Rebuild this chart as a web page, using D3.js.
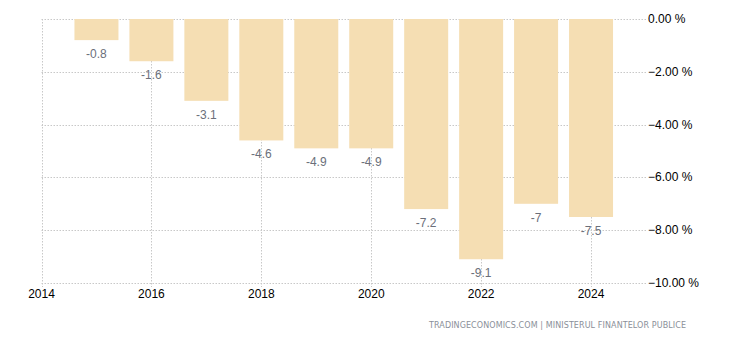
<!DOCTYPE html>
<html>
<head>
<meta charset="utf-8">
<script src="https://cdn.jsdelivr.net/npm/d3@7"></script>
<style>
  html, body { margin: 0; padding: 0; background: #fff; }
  svg { display: block; font-family: "Liberation Sans", Arial, sans-serif; }
</style>
</head>
<body>
<svg id="chart" width="730" height="340"></svg>
<script>
// Budget balance, % of GDP
const years = [2015, 2016, 2017, 2018, 2019, 2020, 2021, 2022, 2023, 2024];
const values = [-0.8, -1.6, -3.1, -4.6, -4.9, -4.9, -7.2, -9.1, -7, -7.5];
const xTickYears = [2014, 2016, 2018, 2020, 2022, 2024];
const yTicks = [0, -2, -4, -6, -8, -10];
const source = "TRADINGECONOMICS.COM | MINISTERUL FINANTELOR PUBLICE";

const svg = d3.select("#chart");
const plot = { left: 41.5, right: 646, top: 19, bottom: 283 };

const x = d3.scaleLinear().domain([2014, 2025]).range([plot.left, plot.right]);
const y = d3.scaleLinear().domain([0, -10]).range([plot.top, plot.bottom]);
const barW = 44;

// horizontal gridlines
svg.append("g").selectAll("line").data(yTicks).join("line")
  .attr("x1", plot.left).attr("x2", plot.right)
  .attr("y1", d => Math.round(y(d)) + 0.5).attr("y2", d => Math.round(y(d)) + 0.5)
  .attr("stroke", "#c8c8c8").attr("stroke-dasharray", "1.5,1.5");

// vertical gridlines at even years
svg.append("g").selectAll("line").data(xTickYears).join("line")
  .attr("x1", d => Math.round(x(d)) + 0.5).attr("x2", d => Math.round(x(d)) + 0.5)
  .attr("y1", plot.top).attr("y2", plot.bottom + 4)
  .attr("stroke", "#c8c8c8").attr("stroke-dasharray", "1.5,1.5");

// bars
svg.append("g").selectAll("rect").data(years).join("rect")
  .attr("x", (d) => x(d) - barW / 2)
  .attr("width", barW)
  .attr("y", y(0))
  .attr("height", (d, i) => y(values[i]) - y(0))
  .attr("fill", "#f5deb3");

// value labels under each bar
svg.append("g").selectAll("text").data(years).join("text")
  .attr("x", d => x(d))
  .attr("y", (d, i) => y(values[i]) + 18)
  .attr("text-anchor", "middle")
  .attr("font-size", 12)
  .attr("fill", "#6b6f7a")
  .text((d, i) => String(values[i]));

// x axis labels
svg.append("g").selectAll("text").data(xTickYears).join("text")
  .attr("x", d => x(d))
  .attr("y", 298)
  .attr("text-anchor", "middle")
  .attr("font-size", 12)
  .attr("fill", "#000")
  .text(d => d);

// y axis labels
svg.append("g").selectAll("text").data(yTicks).join("text")
  .attr("x", 648)
  .attr("y", d => y(d) + 4)
  .attr("font-size", 12)
  .attr("fill", "#000")
  .text(d => d3.format(".2f")(d) + " %");

// source line
svg.append("text")
  .attr("x", 429).attr("y", 328)
  .attr("font-family", "'DejaVu Sans', Verdana, sans-serif")
  .attr("font-size", 8)
  .attr("fill", "#8a8f99")
  .attr("textLength", 257)
  .attr("lengthAdjust", "spacing")
  .text(source);
</script>
</body>
</html>
